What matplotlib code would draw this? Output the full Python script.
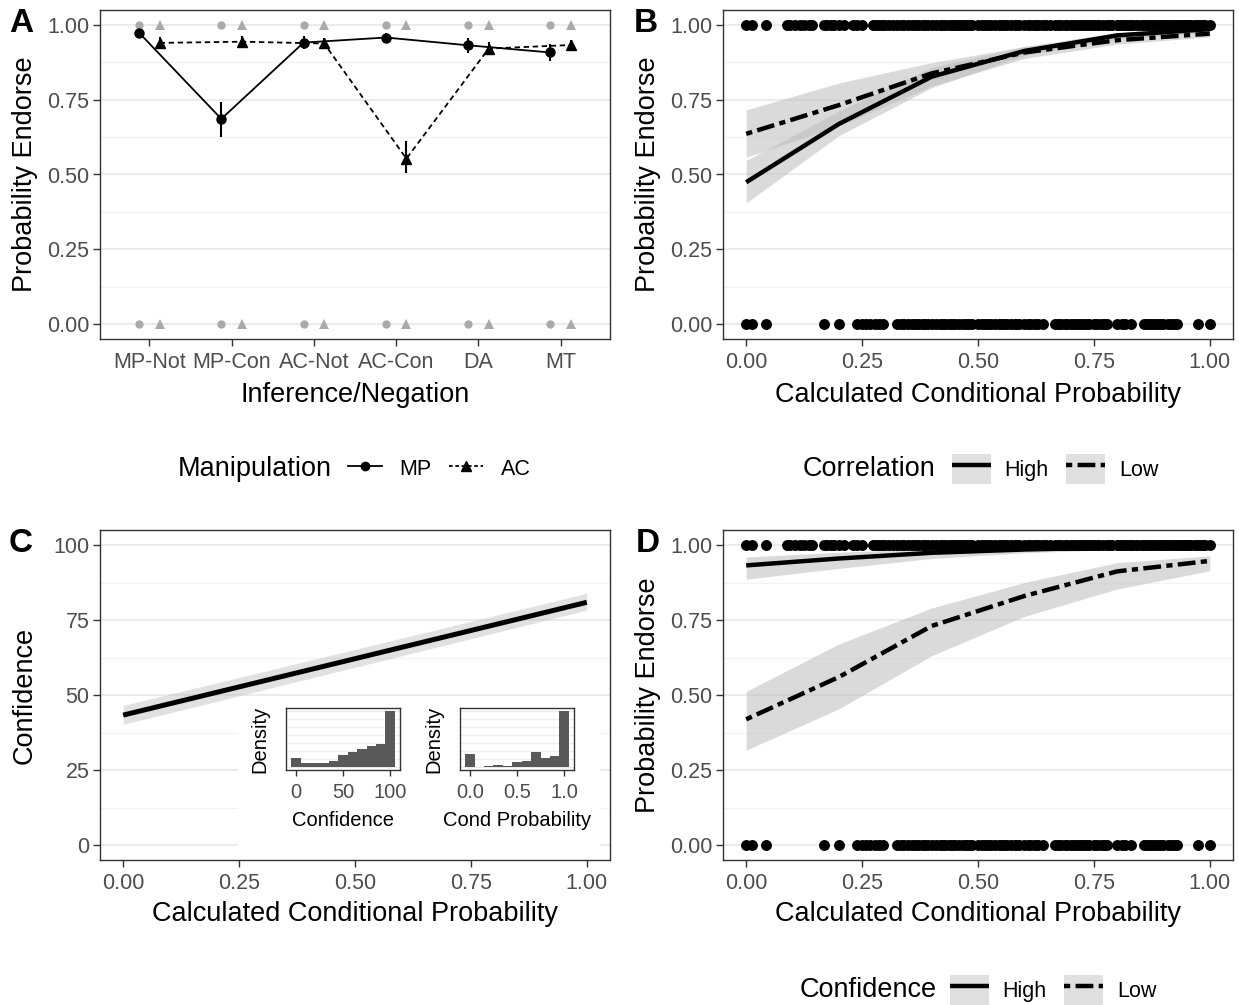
import matplotlib
matplotlib.use("Agg")
import matplotlib.pyplot as plt
from matplotlib.lines import Line2D
from matplotlib.patches import Patch
from matplotlib.ticker import FixedLocator

plt.rcParams["font.family"] = ["Liberation Sans", "DejaVu Sans"]

# ---------------- data ----------------
# panel A: mean endorsement by inference / negation
inferences = ["MP-Not", "MP-Con", "AC-Not", "AC-Con", "DA", "MT"]
mp_mean = [0.974, 0.686, 0.941, 0.958, 0.932, 0.908]
mp_lo = [0.962, 0.624, 0.918, 0.942, 0.905, 0.880]
mp_hi = [0.985, 0.743, 0.962, 0.972, 0.956, 0.935]
ac_mean = [0.940, 0.944, 0.938, 0.553, 0.921, 0.933]
ac_lo = [0.920, 0.925, 0.918, 0.504, 0.898, 0.915]
ac_hi = [0.960, 0.962, 0.958, 0.613, 0.942, 0.950]
raw_levels = [0, 1]

# panels B / D: raw responses (endorse = 1 / 0) against conditional probability
endorse1_x = [0.0, 0.0125, 0.042,
              0.0875, 0.095, 0.105, 0.115, 0.125, 0.135, 0.143,
              0.167, 0.175, 0.182, 0.19, 0.2, 0.211,
              0.231, 0.24, 0.25,
              0.273, 0.28, 0.286, 0.294, 0.3, 0.308, 0.316, 0.325, 0.333, 0.34,
              0.348, 0.357, 0.364, 0.371, 0.379, 0.385, 0.393, 0.4, 0.409, 0.417,
              0.424, 0.429, 0.438, 0.444, 0.45, 0.455, 0.462, 0.467, 0.474, 0.48,
              0.488, 0.5, 0.508, 0.515, 0.522, 0.529, 0.536, 0.545, 0.55, 0.556,
              0.563, 0.571, 0.579, 0.583, 0.588, 0.6, 0.607, 0.615, 0.622, 0.625,
              0.632, 0.64, 0.647, 0.655, 0.667, 0.673, 0.68, 0.688, 0.692, 0.7,
              0.706, 0.714, 0.72, 0.727, 0.733, 0.737, 0.744, 0.75, 0.757, 0.762,
              0.769, 0.778, 0.783, 0.789, 0.8, 0.806, 0.812, 0.818, 0.824, 0.83,
              0.833, 0.84, 0.846, 0.853, 0.857, 0.864, 0.87, 0.875, 0.882, 0.889,
              0.895, 0.9, 0.905, 0.909, 0.917, 0.923, 0.929, 0.933, 0.938, 0.944,
              0.95, 0.955, 0.96, 0.967, 0.972, 0.978, 0.985, 0.99, 1.0]
endorse0_x = [0.0, 0.0125, 0.042,
              0.167, 0.2,
              0.24, 0.25, 0.259, 0.267, 0.278, 0.286, 0.295,
              0.325, 0.333, 0.34, 0.348, 0.357, 0.364, 0.371, 0.379, 0.385, 0.393,
              0.4, 0.409, 0.417, 0.424, 0.429, 0.438, 0.444, 0.45, 0.458, 0.467,
              0.474, 0.48, 0.488, 0.5, 0.508, 0.515, 0.522, 0.529, 0.536, 0.545,
              0.55, 0.556, 0.563, 0.571, 0.579, 0.583, 0.588, 0.6, 0.607, 0.615,
              0.622, 0.63, 0.64,
              0.667, 0.673, 0.68, 0.688, 0.692, 0.7, 0.706, 0.714, 0.72, 0.727,
              0.733, 0.74, 0.75, 0.757, 0.765, 0.771, 0.778,
              0.8, 0.81, 0.818, 0.83,
              0.857, 0.864, 0.87, 0.875, 0.882, 0.889, 0.895, 0.9, 0.909, 0.917,
              0.923, 0.929,
              0.974, 1.0]

# model predictions at these conditional probabilities
pred_x = [0.0, 0.2, 0.4, 0.6, 0.8, 1.0]

# panel B: correlation high / low
corr_high_fit = [0.474, 0.669, 0.827, 0.913, 0.965, 0.986]
corr_high_lo = [0.405, 0.630, 0.790, 0.898, 0.952, 0.977]
corr_high_hi = [0.547, 0.712, 0.858, 0.928, 0.975, 0.993]
corr_low_fit = [0.636, 0.732, 0.838, 0.908, 0.949, 0.971]
corr_low_lo = [0.558, 0.662, 0.796, 0.888, 0.936, 0.960]
corr_low_hi = [0.716, 0.806, 0.874, 0.928, 0.962, 0.982]

# panel D: confidence high / low
conf_high_fit = [0.932, 0.955, 0.974, 0.985, 0.992, 0.996]
conf_high_lo = [0.886, 0.922, 0.955, 0.974, 0.985, 0.990]
conf_high_hi = [0.960, 0.976, 0.988, 0.993, 0.997, 0.998]
conf_low_fit = [0.419, 0.560, 0.730, 0.830, 0.912, 0.947]
conf_low_lo = [0.316, 0.454, 0.631, 0.762, 0.853, 0.914]
conf_low_hi = [0.512, 0.670, 0.790, 0.875, 0.941, 0.964]

# panel C: confidence vs conditional probability
c_x = [0.0, 1.0]
c_fit = [43.3, 80.9]
c_lo = [40.2, 78.3]
c_hi = [46.5, 83.9]

# insets: distribution of responses (% per bin)
conf_bins = [0, 10, 20, 30, 40, 50, 60, 70, 80, 90, 100]
conf_share = [5.3, 2.5, 2.5, 2.5, 3.4, 7.2, 8.5, 10.4, 12.2, 13.2, 32.6]
prob_bins = [0.0, 0.1, 0.2, 0.3, 0.4, 0.5, 0.6, 0.7, 0.8, 0.9, 1.0]
prob_share = [10.7, 0.3, 1.1, 1.9, 1.3, 4.0, 4.8, 12.8, 7.7, 9.3, 46.1]

# ---------------- style ----------------
W, H = 1239, 1005
TICK = "#4d4d4d"
BORDER = "#333333"
GRID = "#ebebeb"
GRID_MINOR = "#f3f3f3"
BAND = "#bdbdbd"
TICK_FS = 15.5
TITLE_FS = 19.5
LEG_FS = 15.5


def fig_rect(x0, y0, x1, y1):
    return [x0 / W, 1 - y1 / H, (x1 - x0) / W, (y1 - y0) / H]


def style_axes(ax, yticks, ylabels, ylim, yminor):
    ax.set_ylim(*ylim)
    ax.set_yticks(yticks)
    ax.set_yticklabels(ylabels)
    ax.yaxis.set_minor_locator(FixedLocator(yminor))
    ax.grid(axis="y", which="major", color=GRID, lw=1.4, zorder=0)
    ax.grid(axis="y", which="minor", color=GRID_MINOR, lw=0.9, zorder=0)
    ax.tick_params(axis="y", which="minor", length=0)
    ax.tick_params(which="major", length=5, width=1.0, color=BORDER,
                   labelsize=TICK_FS, labelcolor=TICK, pad=2.5)
    ax.tick_params(axis="x", pad=4)
    for s in ax.spines.values():
        s.set_color(BORDER)
        s.set_linewidth(1.0)
    ax.set_axisbelow(True)


prob_ticks = [0, 0.25, 0.5, 0.75, 1.0]
prob_labels = ["0.00", "0.25", "0.50", "0.75", "1.00"]
prob_minor = [0.125, 0.375, 0.625, 0.875]

fig = plt.figure(figsize=(W / 100, H / 100), dpi=100)

# ---------------- panel A ----------------
axA = fig.add_axes(fig_rect(100, 10, 610, 339))
style_axes(axA, prob_ticks, prob_labels, (-0.05, 1.05), prob_minor)
pos = list(range(1, len(inferences) + 1))
dodge = 0.125
mp_pos = [p - dodge for p in pos]
ac_pos = [p + dodge for p in pos]
for lev in raw_levels:
    axA.plot(mp_pos, [lev] * len(pos), "o", color="#aaaaaa", ms=6, mew=0, zorder=2)
    axA.plot(ac_pos, [lev] * len(pos), "^", color="#aaaaaa", ms=7.5, mew=0, zorder=2)
axA.plot(mp_pos, mp_mean, "-", color="black", lw=1.3, marker="o", ms=6.5, zorder=4)
axA.plot(ac_pos, ac_mean, color="black", lw=1.3, ls=(0, (3, 2)), marker="^",
         ms=7.5, zorder=4)
axA.vlines(mp_pos, mp_lo, mp_hi, color="black", lw=1.5, zorder=4)
axA.vlines(ac_pos, ac_lo, ac_hi, color="black", lw=1.5, zorder=4)
axA.set_xlim(0.4, 6.6)
axA.set_xticks(pos)
axA.set_xticklabels(inferences)
axA.set_xlabel("Inference/Negation", fontsize=TITLE_FS)
axA.set_ylabel("Probability Endorse", fontsize=TITLE_FS)

TWODASH = (0, (1.4, 1.2, 4.0, 1.2))


def prob_panel(rect, fits, styles):
    ax = fig.add_axes(fig_rect(*rect))
    style_axes(ax, prob_ticks, prob_labels, (-0.05, 1.05), prob_minor)
    ax.set_xlim(-0.05, 1.05)
    ax.set_xticks(prob_ticks)
    ax.set_xticklabels(prob_labels)
    for (fit, lo, hi), ls in zip(fits, styles):
        ax.fill_between(pred_x, lo, hi, color=BAND, alpha=0.55, lw=0, zorder=2)
    for (fit, lo, hi), ls in zip(fits, styles):
        ax.plot(pred_x, fit, color="black", lw=3.2, ls=ls, zorder=3,
                solid_capstyle="butt", dash_capstyle="butt")
    ax.scatter(endorse1_x, [1] * len(endorse1_x), s=62, color="black", lw=0, zorder=4)
    ax.scatter(endorse0_x, [0] * len(endorse0_x), s=62, color="black", lw=0, zorder=4)
    ax.set_xlabel("Calculated Conditional Probability", fontsize=TITLE_FS)
    ax.set_ylabel("Probability Endorse", fontsize=TITLE_FS)
    return ax


axB = prob_panel((723, 10, 1233, 339),
                 [(corr_high_fit, corr_high_lo, corr_high_hi),
                  (corr_low_fit, corr_low_lo, corr_low_hi)],
                 ["-", TWODASH])
axD = prob_panel((723, 530, 1233, 860),
                 [(conf_high_fit, conf_high_lo, conf_high_hi),
                  (conf_low_fit, conf_low_lo, conf_low_hi)],
                 ["-", TWODASH])

# ---------------- panel C ----------------
axC = fig.add_axes(fig_rect(100, 530, 610, 860))
style_axes(axC, [0, 25, 50, 75, 100], ["0", "25", "50", "75", "100"], (-5, 105),
           [12.5, 37.5, 62.5, 87.5])
axC.set_xlim(-0.05, 1.05)
axC.set_xticks(prob_ticks)
axC.set_xticklabels(prob_labels)
axC.fill_between(c_x, c_lo, c_hi, color=BAND, alpha=0.45, lw=0, zorder=2)
axC.plot(c_x, c_fit, color="black", lw=3.6, zorder=3, solid_capstyle="butt")
axC.set_xlabel("Calculated Conditional Probability", fontsize=TITLE_FS)
axC.set_ylabel("Confidence", fontsize=TITLE_FS)

# white backing for the insets
bg = fig.add_axes(fig_rect(238, 698, 600, 852))
bg.set_facecolor("white")
bg.set_xticks([])
bg.set_yticks([])
for s in bg.spines.values():
    s.set_visible(False)
bg.set_zorder(5)

INSET_FS = 14.5


def inset(rect, bins, share, width, xlim, xticks, xticklabels, xlabel):
    ax = fig.add_axes(fig_rect(*rect))
    ax.set_zorder(6)
    ax.bar(bins, share, width=width, color="#595959", lw=0, zorder=2)
    top = max(share)
    ax.set_ylim(-0.05 * top, 1.05 * top)
    ax.set_yticks([top * k / 7 for k in range(8)])
    ax.grid(axis="y", color=GRID, lw=0.9, zorder=0)
    ax.set_axisbelow(True)
    ax.tick_params(axis="y", length=0, labelleft=False)
    ax.set_xlim(*xlim)
    ax.set_xticks(xticks)
    ax.set_xticklabels(xticklabels)
    ax.tick_params(axis="x", length=4, width=1.0, color=BORDER, labelsize=INSET_FS,
                   labelcolor=TICK, pad=5)
    for s in ax.spines.values():
        s.set_color(BORDER)
        s.set_linewidth(1.0)
    ax.set_xlabel(xlabel, fontsize=INSET_FS, labelpad=7)
    ax.set_ylabel("Density", fontsize=INSET_FS, labelpad=12)
    return ax


inset((286, 708, 400, 770), conf_bins, conf_share, 10, (-10.5, 110.5),
      [0, 50, 100], ["0", "50", "100"], "Confidence")
inset((460, 708, 574, 770), prob_bins, prob_share, 0.1, (-0.105, 1.105),
      [0.0, 0.5, 1.0], ["0.0", "0.5", "1.0"], "Cond Probability")

# label positions
for ax in (axA, axB):
    ax.yaxis.set_label_coords(-0.122, 0.5)
    ax.xaxis.set_label_coords(0.5, -0.13)
for ax in (axC, axD):
    ax.yaxis.set_label_coords(-0.122, 0.5)
    ax.xaxis.set_label_coords(0.5, -0.125)

# panel letters
for letter, x, y in [("A", 9, 23), ("B", 634, 23), ("C", 9, 544), ("D", 636, 544)]:
    fig.text(x / W, 1 - y / H, letter, fontsize=24, fontweight="bold",
             ha="left", va="center")


# ---------------- legends ----------------
def legend_row(title, title_x, entries_x, y, handles, labels, hl, hh, tp, cs):
    fig.text(title_x / W, 1 - y / H, title, fontsize=TITLE_FS, ha="left", va="center")
    fig.legend(handles, labels, loc="center left",
               bbox_to_anchor=(entries_x / W, 1 - y / H), ncol=len(labels),
               frameon=False, fontsize=LEG_FS, handlelength=hl, handleheight=hh,
               handletextpad=tp, columnspacing=cs, borderpad=0, borderaxespad=0)


legend_row("Manipulation", 178, 348, 469,
           [Line2D([], [], color="black", lw=1.3, marker="o", ms=6),
            Line2D([], [], color="black", lw=1.3, ls=(0, (2, 1.5)), marker="^", ms=7)],
           ["MP", "AC"], 1.6, 1.0, 0.8, 0.8)

band_key = [(Patch(facecolor="#e0e0e0", edgecolor="none"),
             Line2D([], [], color="black", lw=3.2, solid_capstyle="butt")),
            (Patch(facecolor="#e0e0e0", edgecolor="none"),
             Line2D([], [], color="black", lw=3.2, ls=TWODASH, dash_capstyle="butt"))]
legend_row("Correlation", 803, 952, 469, band_key, ["High", "Low"], 1.8, 1.75, 0.65, 0.8)
legend_row("Confidence", 800, 950, 990, band_key, ["High", "Low"], 1.8, 1.75, 0.65, 0.8)

fig.savefig("out.png", dpi=100)
